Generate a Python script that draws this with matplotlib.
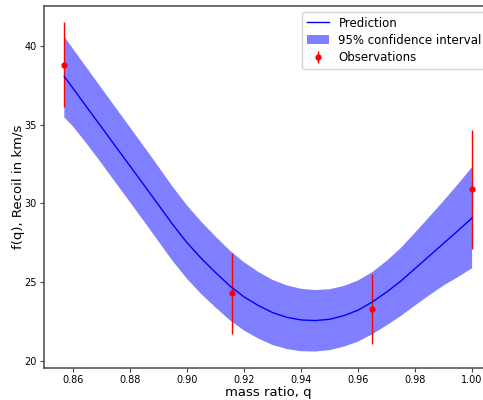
import matplotlib
matplotlib.use('Agg')
import matplotlib.pyplot as plt

# observations (mass ratio, recoil, error)
q_obs = [0.857, 0.9157, 0.965, 1.0]
f_obs = [38.81, 24.27, 23.27, 30.89]
f_err = [2.69, 2.56, 2.22, 3.80]

# prediction and 95% band
q_grid = [0.857, 0.860, 0.865, 0.870, 0.875, 0.880, 0.885, 0.890, 0.895, 0.900,
          0.905, 0.910, 0.915, 0.920, 0.925, 0.930, 0.935, 0.940, 0.945, 0.950,
          0.955, 0.960, 0.965, 0.970, 0.975, 0.980, 0.985, 0.990, 0.995, 1.000]
pred = [38.06, 37.32, 36.08, 34.85, 33.61, 32.38, 31.14, 29.90, 28.65, 27.50,
        26.50, 25.60, 24.75, 24.05, 23.50, 23.05, 22.75, 22.58, 22.54, 22.62,
        22.85, 23.20, 23.72, 24.35, 25.05, 25.85, 26.65, 27.45, 28.25, 29.07]
upper = [40.59, 39.83, 38.58, 37.33, 36.08, 34.84, 33.59, 32.33, 31.05, 29.87,
         28.83, 27.89, 27.00, 26.25, 25.64, 25.13, 24.78, 24.56, 24.48, 24.53,
         24.74, 25.09, 25.62, 26.33, 27.15, 28.13, 29.13, 30.15, 31.20, 32.30]
lower = [35.46, 34.90, 33.75, 32.55, 31.31, 30.08, 28.84, 27.58, 26.33, 25.20,
         24.23, 23.38, 22.57, 21.91, 21.40, 20.99, 20.73, 20.59, 20.57, 20.66,
         20.88, 21.20, 21.67, 22.23, 22.83, 23.50, 24.15, 24.77, 25.30, 25.87]

fig = plt.figure(figsize=(4.83, 4.0), dpi=100)
ax = fig.add_axes([0.091, 0.08, 0.9286, 0.905])

eb = ax.errorbar(q_obs, f_obs, f_err, fmt='r.', markersize=7, lw=1, label='Observations')
line, = ax.plot(q_grid, pred, 'b-', lw=1, label='Prediction')
band = ax.fill_between(q_grid, lower, upper, alpha=.5, fc='b', ec='None',
                       label='95% confidence interval')

ax.set_xlabel('mass ratio, q', fontsize=9.5, labelpad=1)
ax.set_ylabel('f(q), Recoil in km/s', fontsize=9.5, labelpad=0)
ax.tick_params(labelsize=7, length=3, color='#444444', pad=2)
for s in ax.spines.values():
    s.set_color('#555555')
    s.set_linewidth(1.2)

ax.legend([line, band, eb], ['Prediction', '95% confidence interval', 'Observations'],
          loc='upper right', fontsize=8.5, labelspacing=0.35, handlelength=1.9)

fig.savefig('out.png', dpi=100)
